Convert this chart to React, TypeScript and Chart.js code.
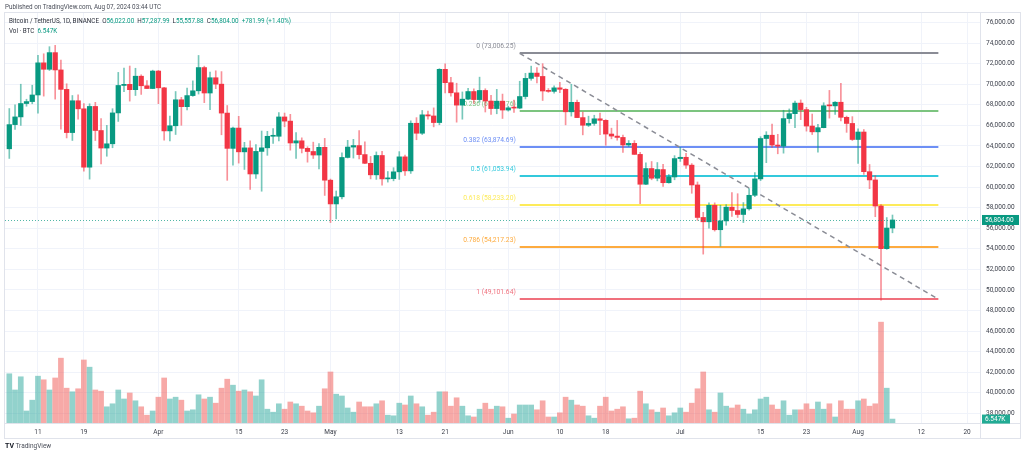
import React, { useEffect, useRef } from "react";
import { Chart, registerables } from "chart.js";

Chart.register(...registerables);

// Daily candles BTC/USDT (Binance), 2024-03-06 .. 2024-08-07, index = days since Mar 6
const firstDay = "2024-03-06";
const opens = [
  63724, 66074, 66823, 68124, 68313, 68955, 72078, 71452, 73072, 71388,
  69500, 65300, 68393, 67610, 61937, 67840, 65501, 63796, 64209, 67211,
  69880, 69988, 69469, 70780, 69850, 69582, 71280, 69650, 65463, 65963,
  68488, 67820, 68896, 69360, 71620, 69146, 70631, 70007, 67195, 63765,
  65739, 63426, 63812, 61277, 63470, 63818, 64940, 64941, 66819, 66414,
  64289, 64499, 63770, 63461, 63118, 63866, 60672, 58364, 59060, 62882,
  63892, 64038, 63162, 62312, 61193, 63074, 60799, 60825, 61484, 62940,
  61577, 66206, 65235, 67024, 66915, 66274, 71446, 70148, 69166, 67969,
  68549, 69290, 68507, 69394, 68366, 67635, 68354, 67491, 67706, 67680,
  68804, 70567, 71082, 70757, 69342, 69305, 69648, 69508, 67321, 68243,
  66756, 66012, 66191, 66639, 66491, 65158, 64960, 64828, 64096, 64252,
  63180, 60277, 61806, 60864, 61706, 60427, 60987, 62772, 62899, 62135,
  60208, 57050, 56628, 58231, 55857, 56714, 58051, 57725, 57340, 57889,
  59204, 60797, 64724, 65043, 64087, 63987, 66660, 67139, 68165, 67532,
  65936, 65372, 65777, 67907, 67896, 68249, 66784, 66188, 64628, 65354,
  61498, 60697, 58161, 54018, 56022,
];
const highs = [
  67637, 67985, 70000, 68541, 69900, 72800, 72960, 73650, 73777, 72357,
  70043, 68904, 68957, 68124, 68100, 68240, 66650, 65999, 67622, 71150,
  71561, 71769, 71552, 70916, 70355, 71366, 71342, 69708, 66914, 69291,
  68725, 69629, 70326, 72797, 71758, 71172, 71305, 71227, 67931, 65840,
  66878, 64355, 64486, 64125, 65450, 65419, 65695, 67233, 67199, 67075,
  65297, 64789, 63923, 64370, 64228, 64735, 60780, 59625, 63320, 64545,
  64646, 65495, 64390, 62984, 63420, 63470, 61515, 61888, 63450, 63118,
  66444, 66752, 67451, 67400, 67700, 71515, 71979, 70666, 70096, 69250,
  69610, 69562, 70687, 69560, 68920, 69500, 69042, 67857, 68447, 70288,
  71063, 71758, 71625, 71997, 69582, 69850, 70195, 69569, 69999, 68449,
  67294, 66895, 66985, 67188, 66556, 65728, 66482, 65066, 64525, 64524,
  63369, 62359, 62487, 62389, 62225, 61224, 63058, 63861, 63288, 62285,
  60499, 57546, 58475, 58472, 58236, 58296, 59470, 59359, 58500, 59850,
  61420, 64900, 65388, 66128, 65133, 67470, 67598, 68366, 68474, 67750,
  67102, 66112, 68200, 69399, 68318, 70079, 66900, 66849, 65659, 65596,
  62198, 61117, 58305, 57040, 57288,
];
const lows = [
  62787, 65600, 66000, 67861, 68100, 67194, 68845, 71334, 68555, 65630,
  64780, 64533, 66594, 61555, 60775, 64529, 62260, 63000, 63825, 66385,
  69280, 68359, 68903, 69009, 69601, 69562, 68110, 64550, 64493, 65113,
  66011, 67491, 68824, 69043, 68210, 67518, 69567, 65086, 60660, 62134,
  62333, 61716, 59768, 60833, 59600, 63090, 64237, 64500, 65864, 63589,
  62794, 63322, 62424, 62781, 61765, 59191, 56552, 56911, 58849, 62826,
  62822, 62746, 62285, 60800, 60750, 60187, 60487, 60610, 60749, 61143,
  61330, 64602, 65107, 66600, 65857, 66060, 69162, 68843, 66312, 66600,
  68500, 68128, 68250, 67300, 67076, 67128, 66670, 67386, 67257, 67613,
  68567, 70383, 70119, 68420, 69209, 69131, 69172, 66051, 66902, 66764,
  65078, 65889, 66000, 65104, 64060, 64693, 64560, 63379, 63943, 63178,
  58402, 60239, 60712, 60606, 60063, 60384, 60712, 62497, 61806, 59400,
  56771, 53485, 56018, 55724, 54260, 56289, 57157, 57050, 56552, 57756,
  59078, 60632, 62373, 63854, 63238, 63300, 66222, 65777, 66559, 65441,
  65111, 63400, 65759, 66705, 67066, 66428, 65323, 64530, 62302, 61236,
  59850, 57122, 49000, 53950, 55558,
];
const closes = [
  66074, 66823, 68124, 68313, 68955, 72078, 71452, 73072, 71388, 69500,
  65300, 68393, 67610, 61937, 67840, 65501, 63796, 64209, 67211, 69880,
  69988, 69469, 70780, 69850, 69582, 71280, 69650, 65463, 65963, 68488,
  67820, 68896, 69360, 71620, 69146, 70631, 70007, 67195, 63765, 65739,
  63426, 63812, 61277, 63470, 63818, 64940, 64941, 66819, 66414, 64289,
  64499, 63770, 63461, 63118, 63866, 60672, 58364, 59060, 62882, 63892,
  64038, 63162, 62312, 61193, 63074, 60799, 60825, 61484, 62940, 61577,
  66206, 65235, 67024, 66915, 66274, 71446, 70148, 69166, 67969, 68549,
  69290, 68507, 69394, 68366, 67635, 68354, 67491, 67706, 67680, 68804,
  70567, 71082, 70757, 69342, 69305, 69648, 69508, 67321, 68243, 66756,
  66012, 66191, 66639, 66491, 65158, 64960, 64828, 64096, 64252, 63180,
  60277, 61806, 60864, 61706, 60427, 60987, 62772, 62899, 62135, 60208,
  57050, 56628, 58231, 55857, 56714, 58051, 57725, 57340, 57889, 59204,
  60797, 64724, 65043, 64087, 63987, 66660, 67139, 68165, 67532, 65936,
  65372, 65777, 67907, 67896, 68249, 66784, 66188, 64628, 65354, 61498,
  60697, 58161, 54018, 56022, 56804,
];
// volume in thousands of BTC
const volumes = [
  82, 55, 77, 20, 38, 78, 72, 55, 75, 108,
  58, 52, 57, 105, 93, 55, 53, 27, 32, 55,
  40, 50, 37, 27, 13, 20, 43, 75, 40, 43,
  38, 20, 22, 47, 40, 43, 33, 58, 73, 63,
  53, 55, 52, 45, 72, 23, 18, 32, 23, 35,
  32, 28, 20, 17, 28, 57, 85, 48, 45, 25,
  18, 35, 27, 27, 32, 37, 13, 12, 33, 30,
  45, 32, 27, 13, 18, 52, 52, 28, 42, 28,
  12, 10, 23, 33, 23, 28, 27, 8, 15, 30,
  30, 30, 22, 37, 10, 10, 17, 43, 38, 30,
  28, 12, 8, 28, 43, 20, 23, 27, 7, 8,
  53, 32, 22, 18, 25, 12, 17, 25, 18, 33,
  57, 85, 22, 18, 50, 28, 25, 30, 23, 15,
  22, 40, 43, 30, 23, 37, 13, 22, 22, 32,
  23, 35, 23, 32, 10, 37, 23, 23, 37, 40,
  28, 32, 168, 58, 6.547,
];

const xTickDays = [5, 13, 26, 40, 48, 56, 68, 76, 87, 96, 104, 117, 131, 139, 148, 159, 167];
const xTickLabels = ["11", "19", "Apr", "15", "23", "May", "13", "21", "Jun", "10", "18", "Jul", "15", "23", "Aug", "12", "20"];
const priceTicks = [38000, 40000, 42000, 44000, 46000, 48000, 50000, 52000, 54000, 56000, 58000, 60000, 62000, 64000, 66000, 68000, 70000, 72000, 74000, 76000];

const fibRatios = ["0", "0.236", "0.382", "0.5", "0.618", "0.786", "1"];
const fibValues = [73006.25, 67364.76, 63874.69, 61053.94, 58233.2, 54217.23, 49101.64];
const fibColors = ["#8a8c95", "#7cc47f", "#6d8ff5", "#33c9dc", "#fdeb5a", "#fdab3f", "#f0707c"];
const fibStartDay = 89;
const fibEndDay = 162;

const lastPrice = 56804;
const lastVolumeLabel = "6.547K";

const UP = "#089981";
const DOWN = "#f23645";
const UP_WICK = "rgba(8,153,129,0.55)";
const DOWN_WICK = "rgba(242,54,69,0.55)";
const UP_VOL = "rgba(38,166,154,0.5)";
const DOWN_VOL = "rgba(239,83,80,0.5)";
const FONT = "Roboto, 'Liberation Sans', sans-serif";

const fmt = (v: number) =>
  v.toLocaleString("en-US", { minimumFractionDigits: 2, maximumFractionDigits: 2 });

export default function App() {
  const ref = useRef<HTMLCanvasElement | null>(null);

  useEffect(() => {
    document.body.style.margin = "0";
    const canvas = ref.current;
    if (!canvas) return;
    const isUp = closes.map((c, i) => c >= opens[i]);

    const overlay = {
      id: "tvOverlay",
      beforeDatasetsDraw(chart: any) {
        const { ctx, chartArea, scales } = chart;
        const x = scales.x;
        const y = scales.y;
        ctx.save();
        ctx.beginPath();
        ctx.rect(chartArea.left, chartArea.top, chartArea.right - chartArea.left, chartArea.bottom - chartArea.top);
        ctx.clip();
        const x1 = x.getPixelForValue(fibStartDay);
        const x2 = x.getPixelForValue(fibEndDay);
        fibValues.forEach((v, k) => {
          const py = Math.round(y.getPixelForValue(v));
          ctx.strokeStyle = fibColors[k];
          ctx.lineWidth = 2;
          ctx.beginPath();
          ctx.moveTo(x1, py);
          ctx.lineTo(x2, py);
          ctx.stroke();
          ctx.fillStyle = fibColors[k];
          ctx.font = `6.7px ${FONT}`;
          ctx.textAlign = "right";
          ctx.textBaseline = "middle";
          ctx.fillText(`${fibRatios[k]} (${fmt(v)})`, x1 - 4, py - 7);
        });
        ctx.setLineDash([5, 4]);
        ctx.strokeStyle = "#8a8c95";
        ctx.lineWidth = 1.5;
        ctx.beginPath();
        ctx.moveTo(x1, y.getPixelForValue(fibValues[0]));
        ctx.lineTo(x2, y.getPixelForValue(fibValues[fibValues.length - 1]));
        ctx.stroke();
        ctx.restore();
      },
      afterDatasetsDraw(chart: any) {
        const { ctx, chartArea, scales } = chart;
        const py = Math.round(scales.y.getPixelForValue(lastPrice)) + 0.5;
        ctx.save();
        ctx.setLineDash([1, 2]);
        ctx.strokeStyle = "rgba(8,153,129,0.7)";
        ctx.lineWidth = 1;
        ctx.beginPath();
        ctx.moveTo(chartArea.left, py);
        ctx.lineTo(chartArea.right, py);
        ctx.stroke();
        ctx.restore();
      },
      afterDraw(chart: any) {
        const { ctx, chartArea, scales } = chart;
        ctx.save();
        ctx.strokeStyle = "#e0e3eb";
        ctx.lineWidth = 1;
        ctx.beginPath();
        ctx.moveTo(chartArea.right + 0.5, 13);
        ctx.lineTo(chartArea.right + 0.5, 438);
        ctx.moveTo(4, chartArea.bottom + 0.5);
        ctx.lineTo(1021, chartArea.bottom + 0.5);
        ctx.stroke();
        ctx.strokeRect(4.5, 12.5, 1016, 426);
        const py = scales.y.getPixelForValue(lastPrice);
        ctx.font = `6.5px ${FONT}`;
        ctx.textBaseline = "middle";
        ctx.textAlign = "left";
        ctx.fillStyle = UP;
        ctx.fillRect(982, py - 5, 37, 10);
        ctx.fillStyle = "#ffffff";
        ctx.fillText(fmt(lastPrice), 985, py + 0.5);
        const vy = scales.yVol.getPixelForValue(volumes[volumes.length - 1]);
        ctx.fillStyle = "#22ab94";
        ctx.fillRect(982, vy - 4.5, 28, 9);
        ctx.fillStyle = "#ffffff";
        ctx.fillText(lastVolumeLabel, 985, vy);
        ctx.restore();
      },
    };

    const chart = new Chart(canvas, {
      type: "bar",
      data: {
        datasets: [
          {
            label: "Body",
            data: opens.map((o, i) => ({ x: i, y: [o, closes[i]] })),
            backgroundColor: isUp.map((u) => (u ? UP : DOWN)),
            barThickness: 4.6,
            minBarLength: 1,
            grouped: false,
            borderWidth: 0,
            yAxisID: "y",
            order: 0,
          } as any,
          {
            label: "Wick",
            data: lows.map((l, i) => ({ x: i, y: [l, highs[i]] })),
            backgroundColor: isUp.map((u) => (u ? UP_WICK : DOWN_WICK)),
            barThickness: 1,
            grouped: false,
            borderWidth: 0,
            yAxisID: "y",
            order: 1,
          } as any,
          {
            label: "Volume",
            data: volumes.map((v, i) => ({ x: i, y: v })),
            backgroundColor: isUp.map((u) => (u ? UP_VOL : DOWN_VOL)),
            barThickness: 5,
            grouped: false,
            borderWidth: 0,
            yAxisID: "yVol",
            order: 2,
          } as any,
        ],
      },
      options: {
        responsive: false,
        animation: false,
        devicePixelRatio: 1,
        layout: { autoPadding: false, padding: { left: 5, top: 13, right: 0, bottom: 0 } },
        plugins: { legend: { display: false }, tooltip: { enabled: false } },
        scales: {
          x: {
            type: "linear",
            position: "bottom",
            offset: false,
            min: -0.75,
            max: 169.26,
            border: { display: false },
            grid: { color: "#f0f3fa", drawTicks: false, offset: false },
            ticks: {
              autoSkip: false,
              maxRotation: 0,
              padding: 5,
              color: "#3b3f4a",
              font: { family: FONT, size: 6.5 },
              callback: (_v: any, idx: number) => xTickLabels[idx],
            },
            afterBuildTicks: (s: any) => {
              s.ticks = xTickDays.map((d) => ({ value: d }));
            },
            afterFit: (s: any) => {
              s.height = 34;
            },
          },
          y: {
            type: "linear",
            position: "right",
            min: 37071,
            max: 76923,
            border: { display: false },
            grid: { color: "#f0f3fa", drawTicks: false },
            ticks: {
              padding: 6,
              color: "#3b3f4a",
              font: { family: FONT, size: 6.5 },
              callback: (v: any) => fmt(Number(v)),
            },
            afterBuildTicks: (s: any) => {
              s.ticks = priceTicks.map((p) => ({ value: p }));
            },
            afterFit: (s: any) => {
              s.width = 44;
            },
          },
          yVol: {
            type: "linear",
            display: false,
            min: 0,
            max: 683,
          },
        },
      } as any,
      plugins: [overlay],
    });
    return () => chart.destroy();
  }, []);

  const green = { color: UP };
  return (
    <div style={{ position: "relative", width: 1024, height: 457, background: "#ffffff", fontFamily: FONT, overflow: "hidden" }}>
      <canvas ref={ref} width={1024} height={457} style={{ position: "absolute", left: 0, top: 0, width: 1024, height: 457 }} />
      <div style={{ position: "absolute", left: 5, top: 3, fontSize: 6.3, color: "#4a4e59", whiteSpace: "nowrap" }}>
        Published on TradingView.com, Aug 07, 2024 03:44 UTC
      </div>
      <div style={{ position: "absolute", left: 9, top: 17, fontSize: 6.3, color: "#2a2e39", whiteSpace: "nowrap" }}>
        Bitcoin / TetherUS, 1D, BINANCE&nbsp;&nbsp;O<span style={green}>56,022.00</span>&nbsp;&nbsp;H<span style={green}>57,287.99</span>&nbsp;&nbsp;L<span style={green}>55,557.88</span>&nbsp;&nbsp;C<span style={green}>56,804.00</span>&nbsp;&nbsp;<span style={green}>+781.99 (+1.40%)</span>
      </div>
      <div style={{ position: "absolute", left: 9, top: 27, fontSize: 6.3, color: "#2a2e39", whiteSpace: "nowrap" }}>
        Vol · BTC&nbsp;&nbsp;<span style={green}>6.547K</span>
      </div>
      <div style={{ position: "absolute", left: 5, top: 442, fontSize: 6.5, color: "#4a4e59", whiteSpace: "nowrap" }}>
        <b style={{ color: "#131722", fontSize: 7 }}>TV</b> TradingView
      </div>
    </div>
  );
}
